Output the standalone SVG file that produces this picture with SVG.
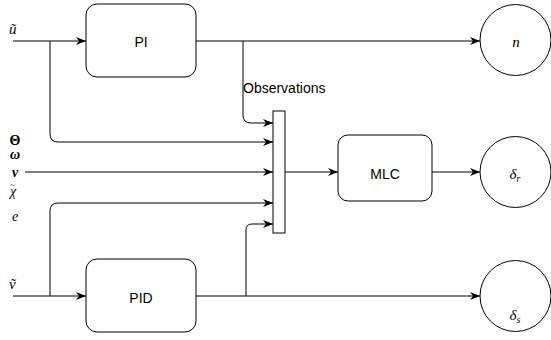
<svg xmlns="http://www.w3.org/2000/svg" width="551" height="340" viewBox="0 0 551 340">
<style>
.box{fill:#fff;stroke:#000;stroke-width:1}
.edge{fill:none;stroke:#000;stroke-width:1}
.lbl{font-family:"Liberation Sans",Arial,sans-serif;font-size:14px;fill:#000;text-anchor:middle}
.math{font-family:"Liberation Serif","Times New Roman",serif;font-size:15px;font-style:italic;fill:#000}
.side{font-size:14px}
.up{font-style:normal}
.obs{font-family:"Liberation Sans",Arial,sans-serif;font-size:14px;fill:#000}
</style>
<defs>
<marker id="arr" viewBox="0 0 10 8" refX="10" refY="4" markerWidth="10" markerHeight="8" markerUnits="userSpaceOnUse" orient="auto">
<path d="M0,0 L10,4 L0,8 L3,4 z" fill="#000"/>
</marker>
</defs>
<g id="connectors">
<path class="edge" d="M13,41 H86" marker-end="url(#arr)"/>
<path class="edge" d="M50,41 V134 Q50,142 58,142 H273" marker-end="url(#arr)"/>
<path class="edge" d="M196,41 H480" marker-end="url(#arr)"/>
<path class="edge" d="M243,41 V115 Q243,123 251,123 H273" marker-end="url(#arr)"/>
<path class="edge" d="M25,172 H273" marker-end="url(#arr)"/>
<path class="edge" d="M13,296 H86" marker-end="url(#arr)"/>
<path class="edge" d="M50,296 V211 Q50,203 58,203 H273" marker-end="url(#arr)"/>
<path class="edge" d="M196,296 H480" marker-end="url(#arr)"/>
<path class="edge" d="M246,296 V230 Q246,224 252,224 H273" marker-end="url(#arr)"/>
<path class="edge" d="M285,172 H338" marker-end="url(#arr)"/>
<path class="edge" d="M432,172 H480" marker-end="url(#arr)"/>
</g>
<g id="PI">
<rect class="box" x="86" y="4" width="110" height="73" rx="11"/>
<text class="lbl" x="141" y="47">PI</text>
</g>
<g id="PID">
<rect class="box" x="86" y="259" width="110" height="73" rx="11"/>
<text class="lbl" x="141" y="303">PID</text>
</g>
<g id="mux">
<rect class="box" x="273" y="111" width="12" height="122"/>
</g>
<g id="MLC">
<rect class="box" x="338" y="135" width="94" height="66" rx="10"/>
<text class="lbl" x="385" y="179">MLC</text>
</g>
<g id="n">
<circle class="box" cx="515.5" cy="40" r="35.5"/>
<text class="math" x="516" y="47" text-anchor="middle">n</text>
</g>
<g id="delta_r">
<circle class="box" cx="515.5" cy="172" r="35.5"/>
<text class="math" x="515" y="179" text-anchor="middle">δ<tspan font-size="10" dy="3">r</tspan></text>
</g>
<g id="delta_s">
<circle class="box" cx="515.5" cy="296" r="35.5"/>
<text class="math" x="515" y="320" text-anchor="middle">δ<tspan font-size="10" dy="3">s</tspan></text>
</g>
<g id="labels">
<text class="obs" x="243" y="93">Observations</text>
<text class="math" x="9" y="34">ũ</text>
<text class="math" x="9" y="289">ṽ</text>
<text class="math side up" x="15" y="145" text-anchor="middle" font-weight="bold">Θ</text>
<text class="math side" x="15" y="159" text-anchor="middle" font-weight="bold">ω</text>
<text class="math side" x="15" y="177" text-anchor="middle" font-weight="bold">ν</text>
<text class="math side" x="10" y="196">χ<tspan class="up" font-size="8" dx="-6" dy="-8">~</tspan></text>
<text class="math side" x="15" y="221" text-anchor="middle">e</text>
</g>
</svg>
